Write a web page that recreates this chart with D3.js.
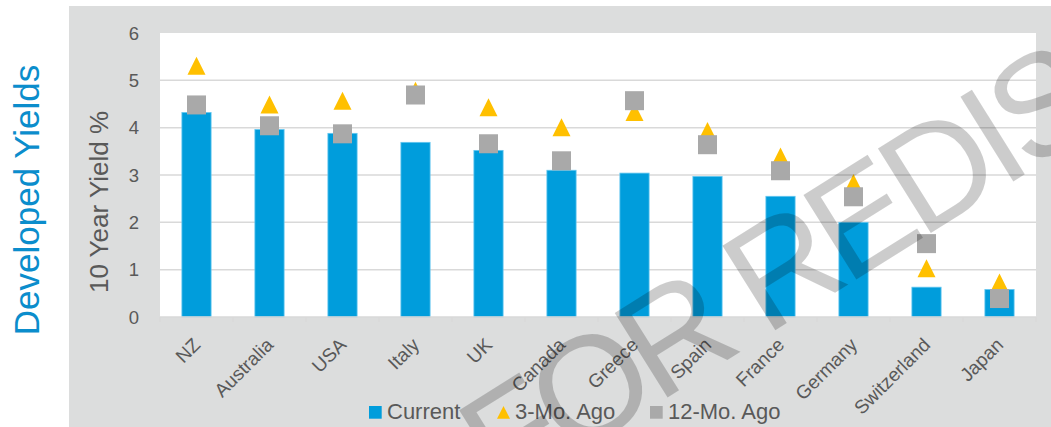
<!DOCTYPE html>
<html>
<head>
<meta charset="utf-8">
<script src="https://cdn.jsdelivr.net/npm/d3@7"></script>
<style>
  html, body { margin: 0; padding: 0; background: #fff; }
  svg { display: block; font-family: "Liberation Sans", Arial, sans-serif; }
</style>
</head>
<body>
<svg id="chart" width="1051" height="427"></svg>
<script>
// data
const categories = ["NZ", "Australia", "USA", "Italy", "UK", "Canada", "Greece", "Spain", "France", "Germany", "Switzerland", "Japan"];
const current = [4.32, 3.96, 3.88, 3.69, 3.52, 3.10, 3.04, 2.97, 2.55, 2.00, 0.63, 0.58];
const threeMoAgo = [5.31, 4.49, 4.57, 4.78, 4.43, 4.01, 4.33, 3.93, 3.39, 2.83, 1.03, 0.73];
const twelveMoAgo = [4.48, 4.04, 3.87, 4.69, 3.66, 3.30, 4.57, 3.64, 3.09, 2.54, 1.55, 0.39];
const yTicks = [0, 1, 2, 3, 4, 5, 6];
const legendNames = ["Current", "3-Mo. Ago", "12-Mo. Ago"];

const textColor = "#595959";
const gridColor = "#d9d9d9";
const barColor = "#009ddc";
const triColor = "#ffc000";
const sqColor = "#a9a9a9";

let svg = d3.select("#chart");

// grey panel behind the plot
svg.append("rect")
    .attr("x", 69).attr("y", 6)
    .attr("width", 1051 - 69).attr("height", 427 - 6)
    .attr("fill", "#dcdddd");

const plot = { left: 160, right: 1036, top: 33, bottom: 317 };

const x = d3.scaleBand()
    .domain(categories)
    .range([plot.left, plot.right])
    .paddingInner(0.6)
    .paddingOuter(0.3);

const xEdge = d3.scaleBand()
    .domain(categories)
    .range([plot.left, plot.right]);

const y = d3.scaleLinear()
    .domain([0, 6])
    .range([plot.bottom, plot.top]);

// white plot area
svg.append("rect")
    .attr("x", plot.left).attr("y", plot.top)
    .attr("width", plot.right - plot.left).attr("height", plot.bottom - plot.top)
    .attr("fill", "#fff");

// gridlines
svg.append("g")
    .selectAll("line")
    .data(yTicks.filter(d => d > 0 && d < 6))
    .enter().append("line")
    .attr("x1", plot.left).attr("x2", plot.right)
    .attr("y1", d => y(d)).attr("y2", d => y(d))
    .attr("stroke", gridColor)
    .attr("stroke-width", 1.5);

// y tick labels
svg.append("g")
    .selectAll("text")
    .data(yTicks)
    .enter().append("text")
    .attr("x", 139)
    .attr("y", d => y(d))
    .attr("dy", "0.36em")
    .attr("text-anchor", "end")
    .attr("font-size", 18.5)
    .attr("fill", textColor)
    .text(d => d);

// bars
svg.append("g")
    .selectAll("rect")
    .data(current)
    .enter().append("rect")
    .attr("x", (d, i) => x(categories[i]))
    .attr("y", d => y(d))
    .attr("width", x.bandwidth())
    .attr("height", d => y(0) - y(d))
    .attr("fill", barColor)
    .attr("stroke", "#63c6ef")
    .attr("stroke-width", 0.8);

// x axis line and ticks
svg.append("line")
    .attr("x1", plot.left).attr("x2", plot.right)
    .attr("y1", plot.bottom).attr("y2", plot.bottom)
    .attr("stroke", gridColor)
    .attr("stroke-width", 1.5);

svg.append("g")
    .selectAll("line")
    .data(categories.concat(["end"]))
    .enter().append("line")
    .attr("x1", (d, i) => i < categories.length ? xEdge(d) : plot.right)
    .attr("x2", (d, i) => i < categories.length ? xEdge(d) : plot.right)
    .attr("y1", plot.bottom).attr("y2", plot.bottom + 5)
    .attr("stroke", gridColor)
    .attr("stroke-width", 1.2);

// x labels
svg.append("g")
    .selectAll("text")
    .data(categories)
    .enter().append("text")
    .attr("transform", d => "translate(" + (x(d) + x.bandwidth() / 2 + 5) + ",346) rotate(-45)")
    .attr("text-anchor", "end")
    .attr("font-size", 19)
    .attr("fill", textColor)
    .text(d => d);

// 3-month markers (triangles)
const tri = "M0,-9L9,9L-9,9Z";
svg.append("g")
    .selectAll("path")
    .data(threeMoAgo)
    .enter().append("path")
    .attr("d", tri)
    .attr("transform", (d, i) => "translate(" + (x(categories[i]) + x.bandwidth() / 2) + "," + y(d) + ")")
    .attr("fill", triColor);

// 12-month markers (squares)
svg.append("g")
    .selectAll("rect")
    .data(twelveMoAgo)
    .enter().append("rect")
    .attr("x", (d, i) => x(categories[i]) + x.bandwidth() / 2 - 9.5)
    .attr("y", d => y(d) - 9.5)
    .attr("width", 19).attr("height", 19)
    .attr("fill", sqColor);

// axis titles
svg.append("text")
    .attr("transform", "translate(108,202) rotate(-90)")
    .attr("text-anchor", "middle")
    .attr("font-size", 26)
    .attr("fill", textColor)
    .text("10 Year Yield %");

svg.append("text")
    .attr("transform", "translate(39,200) rotate(-90)")
    .attr("text-anchor", "middle")
    .attr("font-size", 35)
    .attr("fill", "#0b8dcc")
    .text("Developed Yields");

// legend
let legend = svg.append("g").attr("font-size", 22).attr("fill", textColor);
const legendX = [369, 497, 650];
legendNames.forEach(function (name, i) {
    let g = legend.append("g").attr("transform", "translate(" + legendX[i] + ",406)");
    if (i === 1) {
        g.append("path").attr("d", "M6.5,0L13,12.7L0,12.7Z").attr("fill", triColor);
    } else {
        g.append("rect").attr("width", 12.7).attr("height", 12.7)
            .attr("fill", i === 0 ? barColor : sqColor);
    }
    g.append("text").attr("x", 18).attr("y", 13).text(name);
});

// watermark
svg.append("text")
    .attr("transform", "translate(502,501) rotate(-32)")
    .attr("font-size", 145)
    .attr("letter-spacing", "-9px")
    .attr("fill", "#000")
    .attr("fill-opacity", 0.2)
    .text("FOR REDISTRIBUTION");
</script>
</body>
</html>
